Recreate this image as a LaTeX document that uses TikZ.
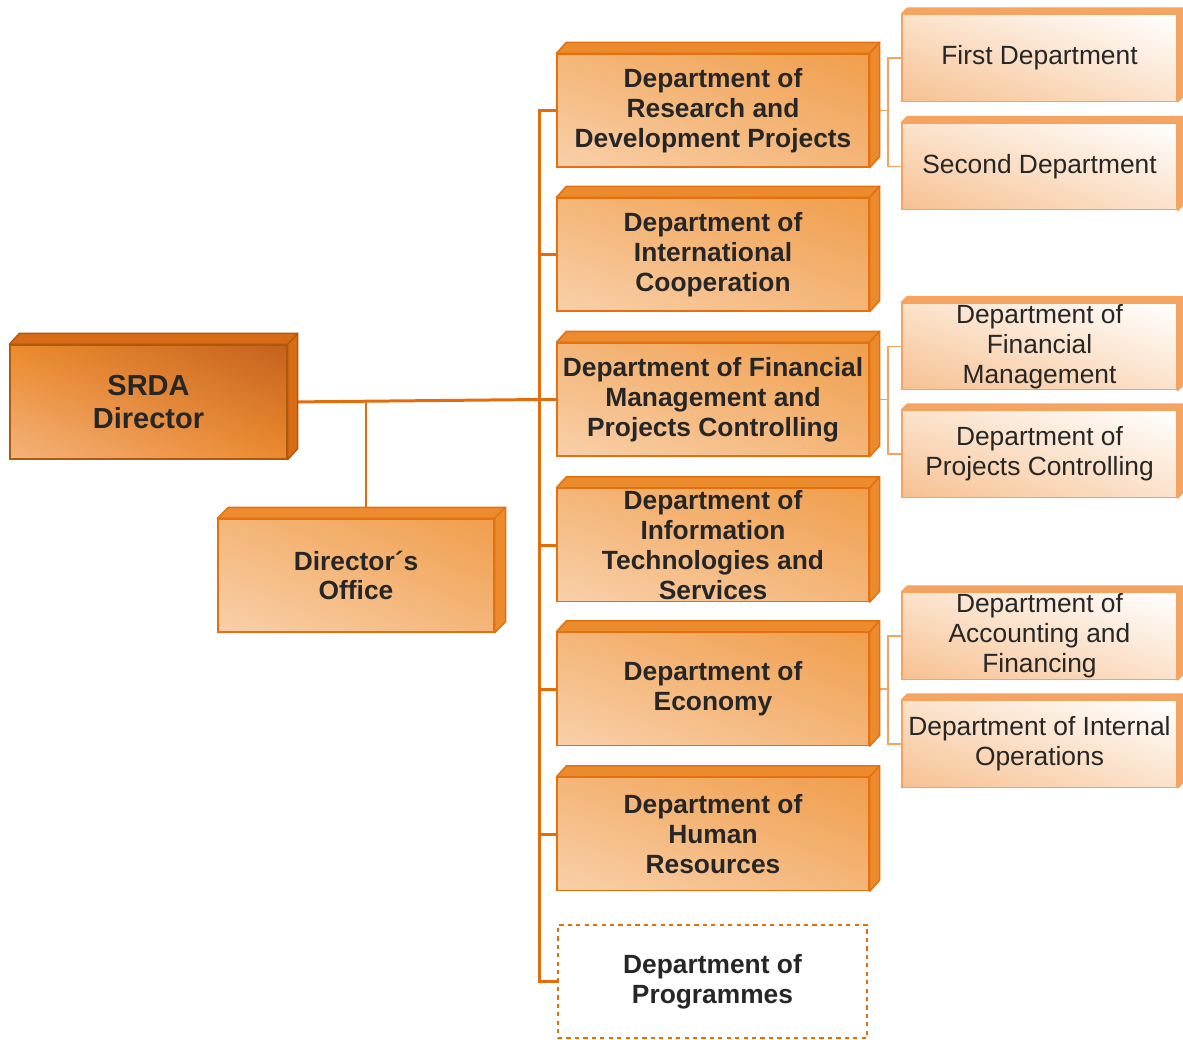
\documentclass[tikz,border=0pt]{standalone}
\usepackage{fontspec}
\setmainfont{Liberation Sans}
\usepackage{tikz}
\usetikzlibrary{shadings}
\usepackage{xcolor}

\definecolor{busorange}{HTML}{E46C0A}
\definecolor{txtgray}{HTML}{262626}
\definecolor{deptLL}{HTML}{F9D0AA}
\definecolor{deptUR}{HTML}{F09E4C}
\definecolor{deptmid}{HTML}{F4B679}
\definecolor{deptedge}{HTML}{E4700E}
\definecolor{deptface}{HTML}{EC8A2E}
\definecolor{srdaLL}{HTML}{F4B27C}
\definecolor{srdaUR}{HTML}{C4621E}
\definecolor{srdamid}{HTML}{EC8A2C}
\definecolor{srdaedge}{HTML}{B0580C}
\definecolor{srdaface}{HTML}{D86C16}
\definecolor{subLL}{HTML}{F7C090}
\definecolor{subUR}{HTML}{FFFFFF}
\definecolor{submid}{HTML}{FBE2CB}
\definecolor{subedge}{HTML}{F5A35E}
\definecolor{subface}{HTML}{F5A563}

% top and right faces of a block
\newcommand{\boxsides}[4]{%
	\filldraw[#4] (#1.north west) -- ++(#2,-#3) -- ([shift={(#2,-#3)}]#1.north east) -- (#1.north east) -- cycle;
	\filldraw[#4] (#1.north east) -- ++(#2,-#3) -- ([shift={(#2,-#3)}]#1.south east) -- (#1.south east) -- cycle;
}

\begin{document}
\begin{tikzpicture}[x=0.02cm, y=-0.02cm,
	every node/.style={text=txtgray, align=center},
	deptbox/.style={draw=deptedge, line width=0.8pt, shade, lower left=deptLL, upper right=deptUR, upper left=deptmid, lower right=deptmid, minimum width=6.24cm, minimum height=2.26cm, inner xsep=1pt, inner ysep=0pt, font=\fontsize{15pt}{17pt}\selectfont\bfseries},
	srdabox/.style={draw=srdaedge, line width=0.8pt, shade, lower left=srdaLL, upper right=srdaUR, upper left=srdamid, lower right=srdamid, minimum width=5.54cm, minimum height=2.28cm, font=\fontsize{16.5pt}{19pt}\selectfont\bfseries},
	subbox/.style={draw=subedge, line width=0.8pt, shade, lower left=subLL, upper right=subUR, upper left=submid, lower right=submid, minimum width=5.5cm, minimum height=1.73cm, inner xsep=1pt, inner ysep=0pt, font=\fontsize{15pt}{17pt}\selectfont},
	progbox/.style={draw=busorange, line width=0.9pt, dash pattern=on 2.4pt off 2.4pt, fill=white, minimum width=6.18cm, minimum height=2.26cm, font=\fontsize{15pt}{17pt}\selectfont\bfseries},
	deptside/.style={fill=deptface, draw=deptedge, line width=0.8pt, line join=round},
	srdaside/.style={fill=srdaface, draw=srdaedge, line width=0.8pt, line join=round},
	subside/.style={fill=subface, draw=subedge, line width=0.8pt, line join=round},
	bus/.style={draw=busorange, line width=1.7pt},
	subline/.style={draw=subedge, line width=0.7pt}]
	\useasboundingbox (0,0) rectangle (1183,1039);

	\node[srdabox] (srda) at (148.5,402) {SRDA\\Director};
	\node[deptbox, minimum width=5.52cm] (office) at (356,575.5) {Director´s\\Office};

	\node[deptbox] (rd) at (713,110.5) {Department of\\Research and\\Development Projects};
	\node[deptbox] (intl) at (713,254.5) {Department of\\International\\Cooperation};
	\node[deptbox] (fin) at (713,399.5) {Department of Financial\\Management and\\Projects Controlling};
	\node[deptbox] (it) at (713,545) {Department of\\Information\\Technologies and\\Services};
	\node[deptbox] (econ) at (713,689) {Department of\\Economy};
	\node[deptbox] (hr) at (713,834) {Department of\\Human\\Resources};
	\node[progbox] (prog) at (712.5,981.5) {Department of\\Programmes};

	\node[subbox] (first) at (1039.5,58) {First Department};
	\node[subbox] (second) at (1039.5,166.5) {Second Department};
	\node[subbox] (finm) at (1039.5,346.5) {Department of\\Financial\\Management};
	\node[subbox] (projc) at (1039.5,454) {Department of\\Projects Controlling};
	\node[subbox] (acc) at (1039.5,636) {Department of\\Accounting and\\Financing};
	\node[subbox] (intop) at (1039.5,744) {Department of Internal\\Operations};

	\coordinate (bus) at (539,0);
	\coordinate (oj) at (366,0);
	\coordinate (sj) at (888,0);

	\draw[bus] (srda.east) -- (fin.west -| bus);
	\draw[bus] (srda.east -| oj) -- (office.north -| oj);
	\draw[bus] (rd.west) -| (prog.west -| bus) -- (prog.west);
	\foreach \d in {intl,fin,it,econ,hr}
		\draw[bus] (\d.west -| bus) -- (\d.west);

	\foreach \p/\a/\b in {rd/first/second, fin/finm/projc, econ/acc/intop} {
		\draw[subline] (\p.east) -- (\p.east -| sj);
		\draw[subline] (\a.west) -| (\b.west -| sj) -- (\b.west);
	}

	\boxsides{srda}{10}{11}{srdaside}
	\boxsides{office}{11}{11}{deptside}
	\foreach \d in {rd,intl,fin,it,econ,hr}
		\boxsides{\d}{10}{11}{deptside};
	\foreach \s in {first,second,finm,projc,acc,intop}
		\boxsides{\s}{6}{6}{subside};
\end{tikzpicture}
\end{document}
